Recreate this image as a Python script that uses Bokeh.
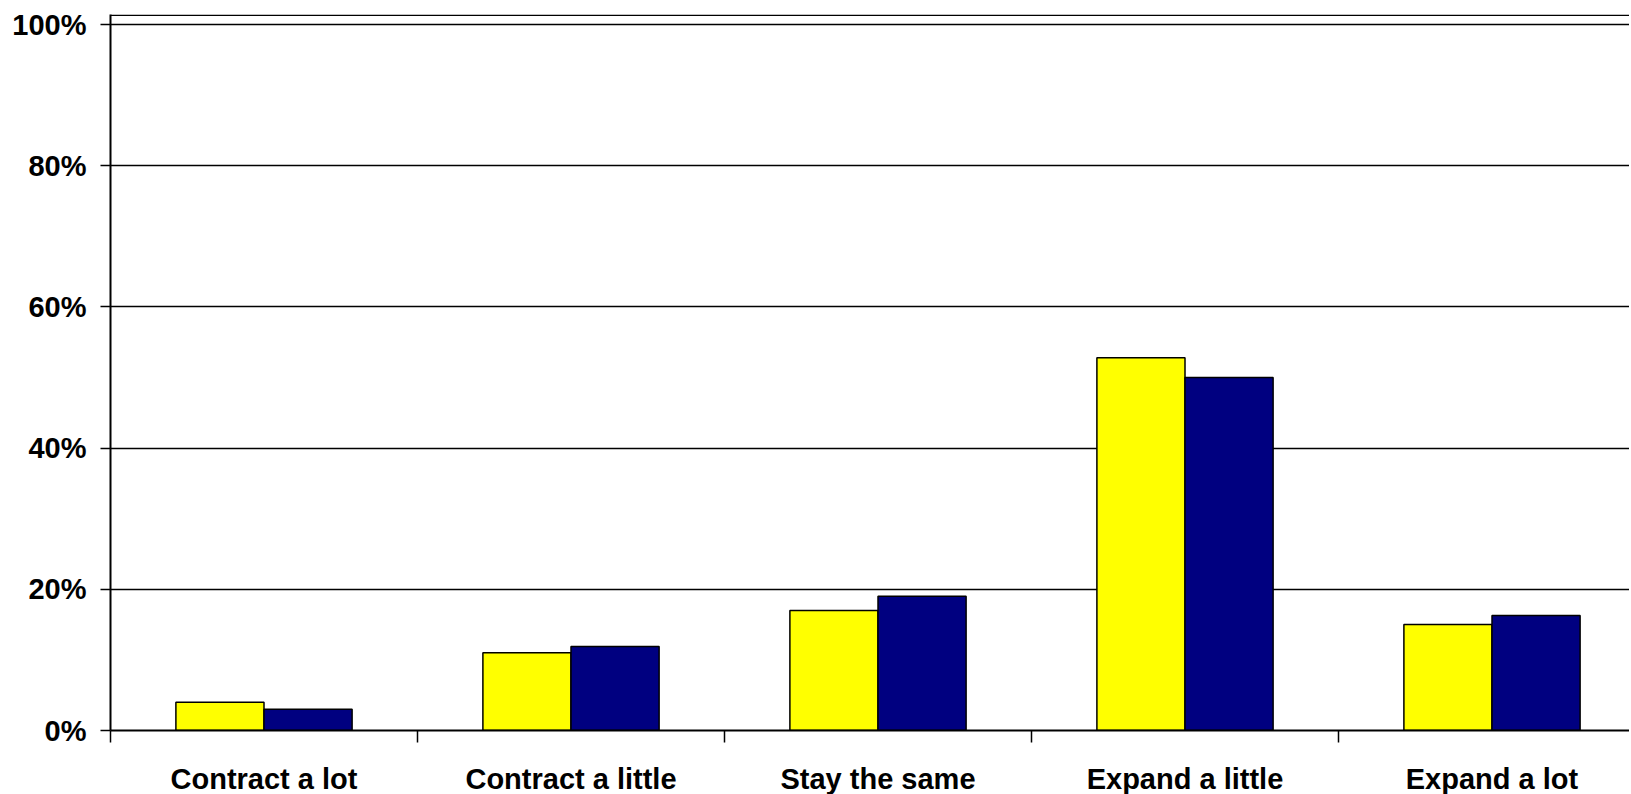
from bokeh.plotting import figure
from bokeh.models import ColumnDataSource, FixedTicker, Span, Range1d
from bokeh.embed import file_html
from bokeh.resources import INLINE
from bokeh.transform import dodge

categories = ["Contract a lot", "Contract a little", "Stay the same", "Expand a little", "Expand a lot"]
series_a = [4.0, 11.0, 17.0, 52.8, 15.0]
series_b = [3.0, 11.9, 19.0, 50.0, 16.3]
y_ticks = [0, 20, 40, 60, 80, 100]
y_tick_labels = ["0%", "20%", "40%", "60%", "80%", "100%"]

centers = [i + 0.5 for i in range(len(categories))]
src = ColumnDataSource(dict(x=centers, a=series_a, b=series_b))

FONT = "Liberation Sans"
BAR_W = 0.287
FW = 1519
FH = 716

p = figure(output_backend="svg", toolbar_location=None,
           frame_width=FW, frame_height=FH,
           min_border_left=110, min_border_top=14, min_border_right=0, min_border_bottom=62,
           x_range=Range1d(0, FW / 307.0), y_range=Range1d(0, FH / 7.06),
           x_axis_location="below")
p.outline_line_color = None
p.background_fill_color = "white"
p.border_fill_color = "white"

p.vbar(x=dodge("x", -BAR_W / 2, range=p.x_range), top="a", width=BAR_W, bottom=0, source=src,
       fill_color="#FFFF00", line_color="black", line_width=1.5)
p.vbar(x=dodge("x", BAR_W / 2, range=p.x_range), top="b", width=BAR_W, bottom=0, source=src,
       fill_color="#000080", line_color="black", line_width=1.5)

# grid
p.xgrid.grid_line_color = None
p.ygrid.ticker = FixedTicker(ticks=y_ticks[1:])
p.ygrid.grid_line_color = "black"
p.ygrid.grid_line_width = 1.3

# top border of plot area
p.add_layout(Span(location=FH / 7.06 - 0.12, dimension="width", line_color="black", line_width=1.5))

# y axis
ya = p.yaxis[0]
ya.ticker = FixedTicker(ticks=y_ticks)
ya.major_label_overrides = {t: l for t, l in zip(y_ticks, y_tick_labels)}
ya.major_label_text_font = FONT
ya.major_label_text_font_style = "bold"
ya.major_label_text_font_size = "29px"
ya.major_label_text_color = "black"
ya.major_tick_out = 10
ya.major_tick_in = 0
ya.major_tick_line_color = "black"
ya.major_tick_line_width = 1.5
ya.minor_tick_line_color = None
ya.axis_line_color = "black"
ya.axis_line_width = 2
ya.major_label_standoff = 14

# x axis
xa = p.xaxis[0]
xa.ticker = FixedTicker(ticks=centers, minor_ticks=list(range(len(categories) + 1)))
xa.major_label_overrides = {c: n for c, n in zip(centers, categories)}
xa.major_label_text_font = FONT
xa.major_label_text_font_style = "bold"
xa.major_label_text_font_size = "29px"
xa.major_label_text_color = "black"
xa.major_tick_line_color = None
xa.major_tick_out = 0
xa.major_tick_in = 0
xa.minor_tick_out = 12
xa.minor_tick_in = 0
xa.minor_tick_line_color = "black"
xa.minor_tick_line_width = 1.5
xa.axis_line_color = "black"
xa.axis_line_width = 2
xa.major_label_standoff = 20

open("out.html", "w").write(file_html(p, INLINE))
